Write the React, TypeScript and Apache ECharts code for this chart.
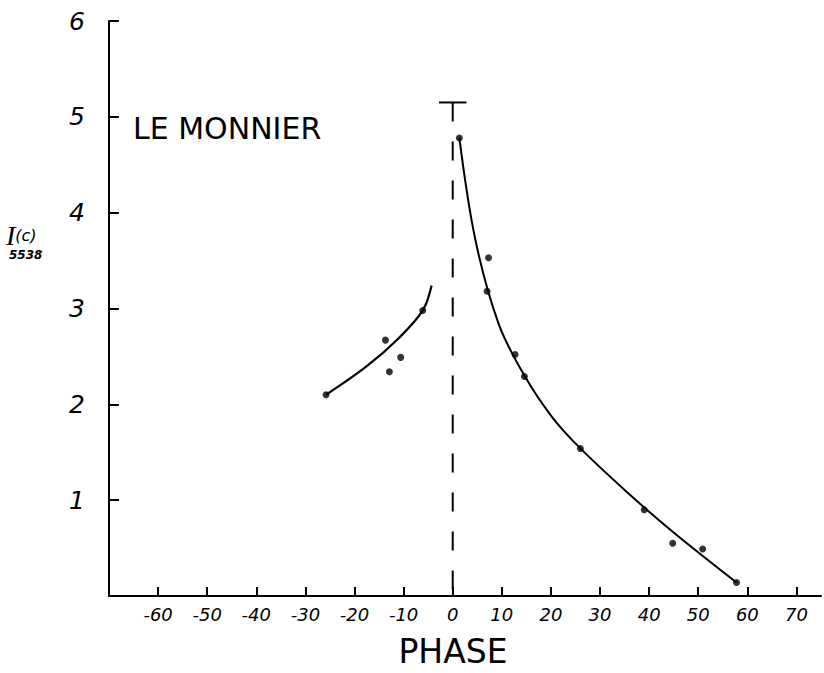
import React, { useEffect, useRef } from "react";
import * as echarts from "echarts";

// Phase axis ticks and intensity axis ticks
const phaseTicks = [-60, -50, -40, -30, -20, -10, 0, 10, 20, 30, 40, 50, 60, 70];
const intensityTicks = [1, 2, 3, 4, 5, 6];

// Observed points [phase, I(c) 5538]
const preMaxPoints: [number, number][] = [
  [-25.8, 2.1],
  [-13.7, 2.67],
  [-12.9, 2.34],
  [-10.6, 2.49],
  [-6.1, 2.98],
];
const postMaxPoints: [number, number][] = [
  [1.35, 4.78],
  [7.3, 3.53],
  [7.0, 3.18],
  [12.7, 2.52],
  [14.6, 2.29],
  [26.0, 1.54],
  [39.0, 0.9],
  [44.8, 0.55],
  [50.9, 0.49],
  [57.8, 0.14],
];

// Hand-drawn fit curves
const preMaxCurve: [number, number][] = [
  [-25.8, 2.1],
  [-17.7, 2.39],
  [-11.0, 2.69],
  [-6.1, 2.98],
  [-4.3, 3.24],
];
const postMaxCurve: [number, number][] = [
  [1.35, 4.78],
  [4.6, 3.72],
  [9.35, 2.84],
  [14.6, 2.3],
  [20.2, 1.87],
  [26.0, 1.54],
  [35.8, 1.07],
  [44.8, 0.67],
  [57.8, 0.14],
];

// Maximum-light marker at phase 0
const maxMarkerTop = 5.15;
const maxMarkerHalfWidth = 2.8;

const INK = "#000";
const FONT = "DejaVu Sans";

export default function App() {
  const ref = useRef<HTMLDivElement>(null);

  useEffect(() => {
    if (!ref.current) return;
    const chart = echarts.init(ref.current, null, { renderer: "svg" });
    chart.setOption({
      animation: false,
      backgroundColor: "#fff",
      grid: { left: 109, right: 3, top: 21, bottom: 60 },
      xAxis: {
        type: "value",
        min: -70,
        max: 75,
        interval: 10,
        name: "PHASE",
        nameLocation: "middle",
        nameGap: 39,
        nameTextStyle: { color: INK, fontSize: 33, fontFamily: FONT, padding: [0, 24, 0, 0] },
        axisLine: { onZero: false, lineStyle: { color: INK, width: 2 } },
        axisTick: {
          inside: true,
          length: 9,
          customValues: phaseTicks,
          lineStyle: { color: INK, width: 2 },
        },
        axisLabel: {
          customValues: phaseTicks,
          margin: 9,
          color: INK,
          fontSize: 18,
          fontStyle: "italic",
          fontFamily: FONT,
        },
        splitLine: { show: false },
      },
      yAxis: {
        type: "value",
        min: 0,
        max: 6,
        interval: 1,
        axisLine: { show: true, onZero: false, lineStyle: { color: INK, width: 2 } },
        axisTick: {
          show: true,
          inside: true,
          length: 10,
          customValues: intensityTicks,
          lineStyle: { color: INK, width: 2 },
        },
        axisLabel: {
          customValues: intensityTicks,
          margin: 24,
          color: INK,
          fontSize: 25,
          fontStyle: "italic",
          fontFamily: FONT,
        },
        splitLine: { show: false },
      },
      graphic: [
        {
          type: "text",
          left: 133,
          top: 113,
          style: {
            text: "LE MONNIER",
            fill: INK,
            font: `30px "${FONT}"`,
          },
        },
        {
          type: "text",
          left: 6,
          top: 221,
          style: {
            text: "{i|I}{c|(c)}",
            rich: {
              i: { fontSize: 28, fontStyle: "italic", fontFamily: "Liberation Serif", fill: INK },
              c: { fontSize: 16, fontStyle: "italic", fontFamily: FONT, fill: INK },
            },
          },
        },
        {
          type: "text",
          left: 9,
          top: 249,
          style: {
            text: "5538",
            fill: INK,
            font: `italic bold 12px "${FONT}"`,
          },
        },
      ],
      series: [
        {
          type: "line",
          data: preMaxCurve,
          smooth: 0.35,
          showSymbol: false,
          lineStyle: { color: INK, width: 2.2 },
          z: 3,
        },
        {
          type: "line",
          data: postMaxCurve,
          smooth: 0.35,
          showSymbol: false,
          lineStyle: { color: INK, width: 2 },
          z: 3,
        },
        {
          type: "scatter",
          data: [...preMaxPoints, ...postMaxPoints],
          symbolSize: 7,
          itemStyle: { color: INK },
          z: 4,
        },
        {
          type: "line",
          data: [
            [0, maxMarkerTop],
            [0, 0],
          ],
          showSymbol: false,
          lineStyle: { color: INK, width: 2, type: [19, 20] },
          z: 2,
        },
        {
          type: "line",
          data: [
            [-maxMarkerHalfWidth, maxMarkerTop],
            [maxMarkerHalfWidth, maxMarkerTop],
          ],
          showSymbol: false,
          lineStyle: { color: INK, width: 2 },
          z: 2,
        },
      ],
    });
    return () => chart.dispose();
  }, []);

  return (
    <div
      ref={ref}
      style={{ position: "fixed", left: 0, top: 0, width: 824, height: 673, background: "#fff" }}
    />
  );
}
